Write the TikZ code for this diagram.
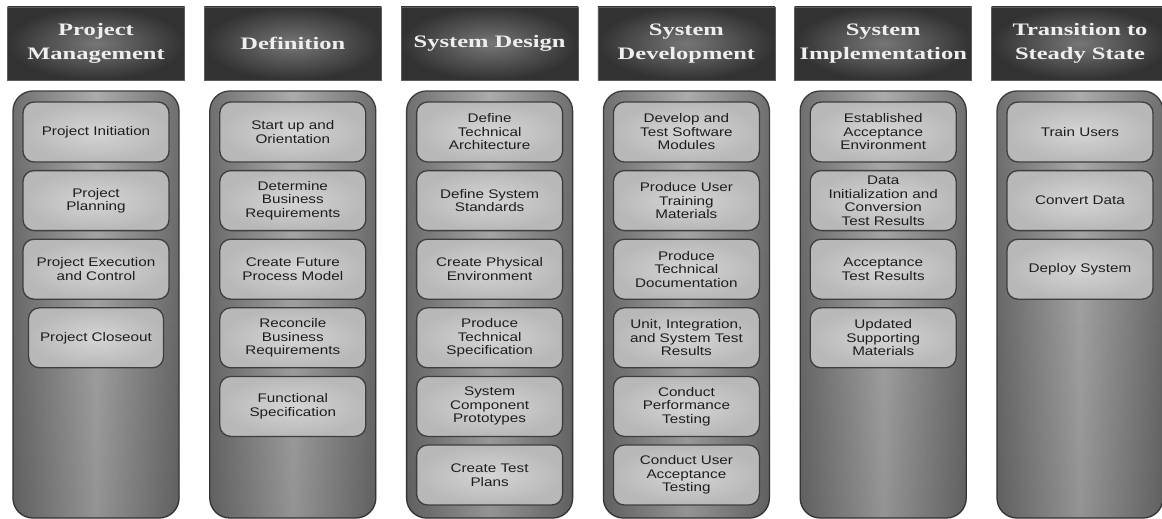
\documentclass[tikz,border=0pt]{standalone}
\usepackage{fontspec}
\newfontfamily\hdfont{Liberation Serif}[FakeStretch=1.4]
\newfontfamily\bxfont{Liberation Sans}[FakeStretch=1.22]
\usetikzlibrary{fadings}

\definecolor{hdout}{HTML}{323232}
\definecolor{hdin}{HTML}{767676}
\definecolor{hdline}{HTML}{5C5C5C}
\definecolor{coledge}{HTML}{707070}
\definecolor{colmid}{HTML}{ACACAC}
\definecolor{colline}{HTML}{3C3C3C}
\definecolor{taskout}{HTML}{B8B8B8}
\definecolor{taskin}{HTML}{D5D5D5}
\definecolor{taskline}{HTML}{3E3E3E}
\definecolor{tasktext}{HTML}{1E1E1E}
\definecolor{hdtext}{HTML}{EEEEEE}

\tikzfading[name=fadebottom, top color=transparent!100, bottom color=transparent!0]
\tikzfading[name=glowband, left color=transparent!100, middle color=transparent!0, right color=transparent!100]

\tikzset{
  header/.style={rectangle, minimum width=177pt, minimum height=73pt,
    inner color=hdin, outer color=hdout, draw=hdline, line width=0.8pt,
    text=hdtext, align=center, inner sep=0pt,
    font=\hdfont\bfseries\fontsize{17.5}{24}\selectfont},
  phase/.style={rectangle, rounded corners=20pt, minimum width=166pt,
    minimum height=427pt, left color=coledge, right color=coledge,
    middle color=colmid, draw=colline, line width=1.3pt},
  task/.style={rectangle, rounded corners=11pt, minimum width=146pt,
    minimum height=60pt, inner color=taskin, outer color=taskout,
    draw=taskline, line width=1.3pt, text=tasktext, align=center,
    inner sep=0pt, font=\bxfont\fontsize{12.5}{13.5}\selectfont},
  shortfade/.style={fill=black, fill opacity=0.14, path fading=fadebottom},
  glow/.style={fill=white, fill opacity=0.5, path fading=glowband}
}

\begin{document}
\begin{tikzpicture}[x=1pt, y=-1pt]
\useasboundingbox (0,0) rectangle (1162,519);
\fill[white] (0,0) rectangle (1162,519);

% phase headers
\node[header] (h1) at (96,43.5)     {Project\\Management};
\node[header] (h2) at (292.8,43.5)  {Definition};
\node[header] (h3) at (489.6,43.5)  {System Design};
\node[header] (h4) at (686.4,43.5)  {System\\Development};
\node[header] (h5) at (883.2,43.5)  {System\\Implementation};
\node[header] (h6) at (1080,43.5)   {Transition to\\Steady State};

% phase columns
\foreach \n/\x in {c1/96, c2/292.8, c3/489.6, c4/686.4, c5/883.2, c6/1080} {
  \node[phase] (\n) at (\x,304.5) {};
  \fill[shortfade, rounded corners=20pt] (\n.north west) rectangle (\n.south east);
}

% soft light bands in the gaps between task boxes
\foreach \x/\rows in {96/4, 292.8/5, 489.6/6, 686.4/6, 883.2/4, 1080/3} {
  \foreach \r in {1,...,\rows} {
    \fill[glow] (\x-70,166.5-4+68.6*\r-68.6) rectangle (\x+70,166.5+4+68.6*\r-68.6);
  }
}

% Project Management
\node[task] (t11) at (96,132)   {Project Initiation};
\node[task] (t12) at (96,200.6) {Project\\Planning};
\node[task] (t13) at (96,269.2) {Project Execution\\and Control};
\node[task, minimum width=135pt] (t14) at (96,337.8) {Project Closeout};

% Definition
\node[task] (t21) at (292.8,132)   {Start up and\\Orientation};
\node[task] (t22) at (292.8,200.6) {Determine\\Business\\Requirements};
\node[task] (t23) at (292.8,269.2) {Create Future\\Process Model};
\node[task] (t24) at (292.8,337.8) {Reconcile\\Business\\Requirements};
\node[task] (t25) at (292.8,406.4) {Functional\\Specification};

% System Design
\node[task] (t31) at (489.6,132)   {Define\\Technical\\Architecture};
\node[task] (t32) at (489.6,200.6) {Define System\\Standards};
\node[task] (t33) at (489.6,269.2) {Create Physical\\Environment};
\node[task] (t34) at (489.6,337.8) {Produce\\Technical\\Specification};
\node[task] (t35) at (489.6,406.4) {System\\Component\\Prototypes};
\node[task] (t36) at (489.6,475)   {Create Test\\Plans};

% System Development
\node[task] (t41) at (686.4,132)   {Develop and\\Test Software\\Modules};
\node[task] (t42) at (686.4,200.6) {Produce User\\Training\\Materials};
\node[task] (t43) at (686.4,269.2) {Produce\\Technical\\Documentation};
\node[task] (t44) at (686.4,337.8) {Unit, Integration,\\and System Test\\Results};
\node[task] (t45) at (686.4,406.4) {Conduct\\Performance\\Testing};
\node[task] (t46) at (686.4,475)   {Conduct User\\Acceptance\\Testing};

% System Implementation
\node[task] (t51) at (883.2,132)   {Established\\Acceptance\\Environment};
\node[task] (t52) at (883.2,200.6) {Data\\Initialization and\\Conversion\\Test Results};
\node[task] (t53) at (883.2,269.2) {Acceptance\\Test Results};
\node[task] (t54) at (883.2,337.8) {Updated\\Supporting\\Materials};

% Transition to Steady State
\node[task] (t61) at (1080,132)   {Train Users};
\node[task] (t62) at (1080,200.6) {Convert Data};
\node[task] (t63) at (1080,269.2) {Deploy System};
\end{tikzpicture}
\end{document}
